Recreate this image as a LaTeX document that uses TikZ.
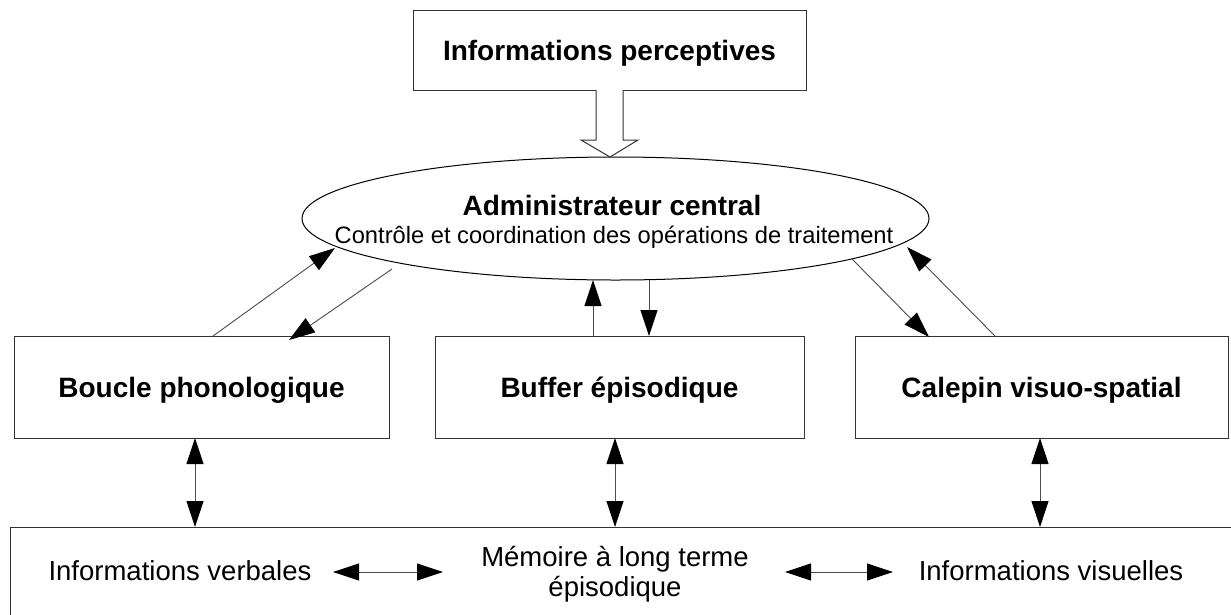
\documentclass[tikz,border=0pt]{standalone}
\usepackage{fontspec}
\setmainfont{Liberation Sans}
\usetikzlibrary{arrows.meta,shapes.geometric}
\begin{document}
\begin{tikzpicture}[x=1pt,y=-1pt,
  box/.style={draw=black!80, line width=1pt, inner sep=0pt, text height=20pt, text depth=0pt,
    font=\fontsize{28}{32}\selectfont\bfseries},
  lbl/.style={anchor=base, inner sep=0pt},
  conn/.style={draw=black!70, line width=0.9pt},
  tip/.tip={Triangle[length=26pt,width=17pt,color=black]},
  one/.style={conn, -tip},
  two/.style={conn, tip-tip}
]
\useasboundingbox[fill=white] (0,0) rectangle (1231,614);

% nodes
\node[box, minimum width=393pt, minimum height=80pt] (perc) at (609.5,50) {Informations perceptives};
\node[draw=black, line width=1pt, ellipse, inner sep=0pt, minimum width=627pt, minimum height=123pt] (admin) at (615.5,218.5) {};
\node[lbl, font=\fontsize{28}{32}\selectfont\bfseries] (admint) at (612,215) {Administrateur central};
\node[lbl, font=\fontsize{23.7}{28}\selectfont] (adminsub) at (614,243) {Contrôle et coordination des opérations de traitement};

\node[box, minimum width=375pt, minimum height=102pt] (boucle) at (201.5,387) {Boucle phonologique};
\node[box, minimum width=369pt, minimum height=102pt] (buffer) at (619.5,387) {Buffer épisodique};
\node[box, minimum width=373pt, minimum height=102pt] (calepin) at (1041.5,387) {Calepin visuo-spatial};

\node[draw=black!80, line width=1pt, inner sep=0pt, minimum width=1232pt, minimum height=92pt] (mlt) at (626,573) {};
\node[lbl, font=\fontsize{27.5}{32}\selectfont] (verb) at (180,580) {Informations verbales};
\node[lbl, font=\fontsize{27.5}{32}\selectfont] (mem1) at (615,566) {Mémoire à long terme};
\node[lbl, font=\fontsize{27.5}{32}\selectfont] (mem2) at (615,596) {épisodique};
\node[lbl, font=\fontsize{27.5}{32}\selectfont] (vis) at (1051,580) {Informations visuelles};

% hollow arrow
\draw[draw=black!80, line width=1pt, fill=white]
  (596,90) -- (596,140) -- (581,140) -- (610,157) -- (638,140) -- (623,140) -- (623,90);

% coordinates for connector ends
\coordinate (b1) at (213,336);  \coordinate (e1) at (335,248);
\coordinate (e2) at (392,269);  \coordinate (b2) at (289,340);
\coordinate (u1) at (593,336);  \coordinate (e3) at (593,280);
\coordinate (e4) at (649,280);  \coordinate (u2) at (649,336);
\coordinate (e5) at (852,259);  \coordinate (c1) at (929,337);
\coordinate (c2) at (995,336);  \coordinate (e6) at (907,247);

\draw[one] (b1) -- (e1);
\draw[one] (e2) -- (b2);
\draw[one] (u1) -- (e3);
\draw[one] (e4) -- (u2);
\draw[one] (e5) -- (c1);
\draw[one] (c2) -- (e6);

% vertical double arrows
\coordinate (v1a) at (195,438); \coordinate (v1b) at (195,527);
\coordinate (v2a) at (615,438); \coordinate (v2b) at (615,527);
\coordinate (v3a) at (1040,438); \coordinate (v3b) at (1040,527);
\draw[two] (v1a) -- (v1b);
\draw[two] (v2a) -- (v2b);
\draw[two] (v3a) -- (v3b);

% horizontal double arrows
\coordinate (h1a) at (333,572); \coordinate (h1b) at (443,572);
\coordinate (h2a) at (785,572); \coordinate (h2b) at (893,572);
\draw[two] (h1a) -- (h1b);
\draw[two] (h2a) -- (h2b);
\end{tikzpicture}
\end{document}
